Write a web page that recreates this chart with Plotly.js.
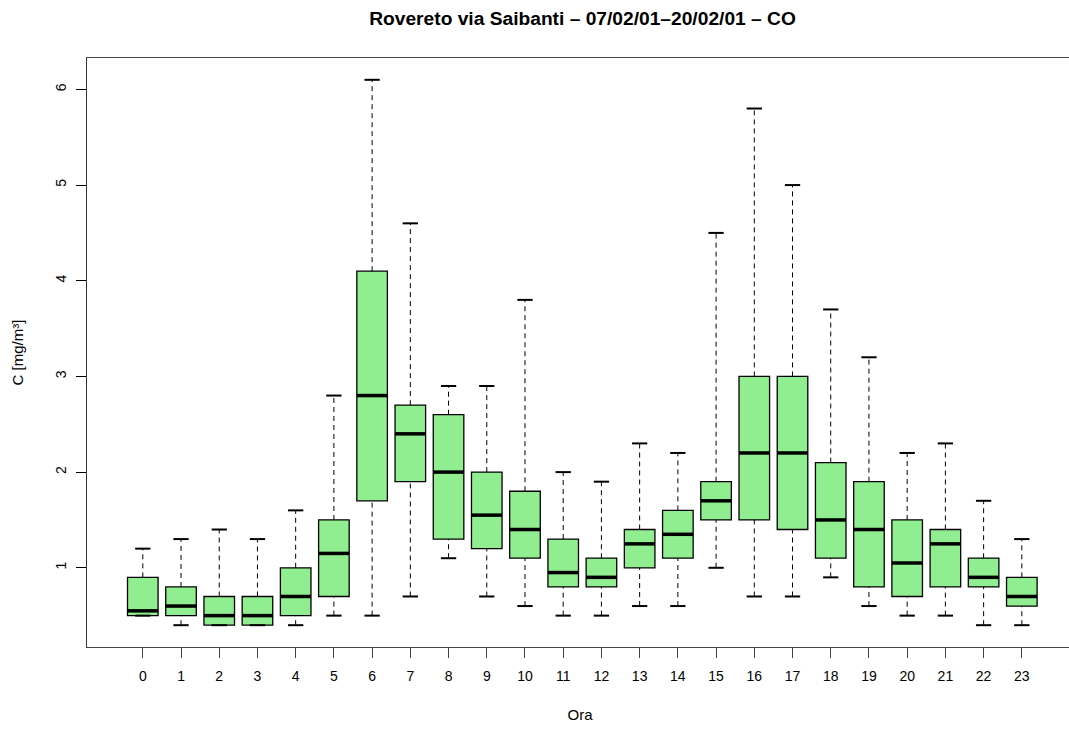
<!DOCTYPE html>
<html>
<head>
<meta charset="utf-8">
<script src="https://cdn.plot.ly/plotly-3.0.1.min.js"></script>
<style>
html,body{margin:0;padding:0;overflow:hidden;background:#fff;width:1069px;height:729px;}
#chart{width:1073px;height:729px;}
</style>
</head>
<body>
<div id="chart"></div>
<script>
const hours = [0,1,2,3,4,5,6,7,8,9,10,11,12,13,14,15,16,17,18,19,20,21,22,23];
const lowerWhisker = [0.5,0.4,0.4,0.4,0.4,0.5,0.5,0.7,1.1,0.7,0.6,0.5,0.5,0.6,0.6,1.0,0.7,0.7,0.9,0.6,0.5,0.5,0.4,0.4];
const q1          = [0.5,0.5,0.4,0.4,0.5,0.7,1.7,1.9,1.3,1.2,1.1,0.8,0.8,1.0,1.1,1.5,1.5,1.4,1.1,0.8,0.7,0.8,0.8,0.6];
const median      = [0.55,0.6,0.5,0.5,0.7,1.15,2.8,2.4,2.0,1.55,1.4,0.95,0.9,1.25,1.35,1.7,2.2,2.2,1.5,1.4,1.05,1.25,0.9,0.7];
const q3          = [0.9,0.8,0.7,0.7,1.0,1.5,4.1,2.7,2.6,2.0,1.8,1.3,1.1,1.4,1.6,1.9,3.0,3.0,2.1,1.9,1.5,1.4,1.1,0.9];
const upperWhisker= [1.2,1.3,1.4,1.3,1.6,2.8,6.1,4.6,2.9,2.9,3.8,2.0,1.9,2.3,2.2,4.5,5.8,5.0,3.7,3.2,2.2,2.3,1.7,1.3];
const yTicks = [1,2,3,4,5,6];

const BOX_W = 0.8, CAP_W = 0.4;

// whiskers (dashed)
const wx = [], wy = [];
hours.forEach((h,i)=>{
  wx.push(h,h,null,h,h,null);
  wy.push(q3[i],upperWhisker[i],null,lowerWhisker[i],q1[i],null);
});
// caps
const cx = [], cy = [];
hours.forEach((h,i)=>{
  cx.push(h-CAP_W/2,h+CAP_W/2,null,h-CAP_W/2,h+CAP_W/2,null);
  cy.push(upperWhisker[i],upperWhisker[i],null,lowerWhisker[i],lowerWhisker[i],null);
});
// medians
const mx = [], my = [];
hours.forEach((h,i)=>{
  mx.push(h-BOX_W/2,h+BOX_W/2,null);
  my.push(median[i],median[i],null);
});

const traces = [
  {type:'scatter',mode:'lines',x:wx,y:wy,line:{color:'#000',width:1,dash:'5px,4px'},hoverinfo:'skip',showlegend:false},
  {type:'scatter',mode:'lines',x:cx,y:cy,line:{color:'#000',width:2},hoverinfo:'skip',showlegend:false},
  {type:'bar',x:hours,base:q1,y:q3.map((v,i)=>v-q1[i]),width:BOX_W,
   marker:{color:'#90EE90',line:{color:'#000',width:1.3}},hoverinfo:'skip',showlegend:false},
  {type:'scatter',mode:'lines',x:mx,y:my,line:{color:'#000',width:3.5},hoverinfo:'skip',showlegend:false}
];

const font = {family:'"Liberation Sans", Arial, Helvetica, sans-serif', color:'#000'};
const layout = {
  width:1073, height:729,
  margin:{l:87,r:0,t:58,b:82},
  paper_bgcolor:'#fff', plot_bgcolor:'#fff',
  font:Object.assign({size:14},font),
  showlegend:false,
  hovermode:false,
  title:{text:'<b>Rovereto via Saibanti – 07/02/01–20/02/01 – CO</b>',
         font:Object.assign({size:19.2},font), x:0.5429, xref:'container', xanchor:'center', y:0.975, yref:'container', yanchor:'middle'},
  xaxis:{
    range:[-1.46,24.339], tickmode:'array', tickvals:hours, ticktext:hours.map(String),
    ticks:'outside', ticklen:10, tickwidth:1, tickcolor:'#444',
    showline:true, linecolor:'#444', linewidth:1, mirror:true,
    showgrid:false, zeroline:false, ticklabelstandoff:6,
    tickfont:Object.assign({size:14},font),
    title:{text:'Ora', font:Object.assign({size:15},font), standoff:26}
  },
  yaxis:{
    range:[0.172,6.328], tickmode:'array', tickvals:yTicks, ticktext:yTicks.map(String),
    ticks:'outside', ticklen:10, tickwidth:1, tickcolor:'#000',
    showline:true, linecolor:'#333', linewidth:1, mirror:false,
    showgrid:false, zeroline:false, tickangle:-90, ticklabelstandoff:4,
    tickfont:Object.assign({size:14},font),
    title:{text:'C [mg/m³]', font:Object.assign({size:15},font), standoff:26}
  },
  bargap:0
};

Plotly.newPlot('chart', traces, layout, {staticPlot:true, displayModeBar:false});
</script>
</body>
</html>
